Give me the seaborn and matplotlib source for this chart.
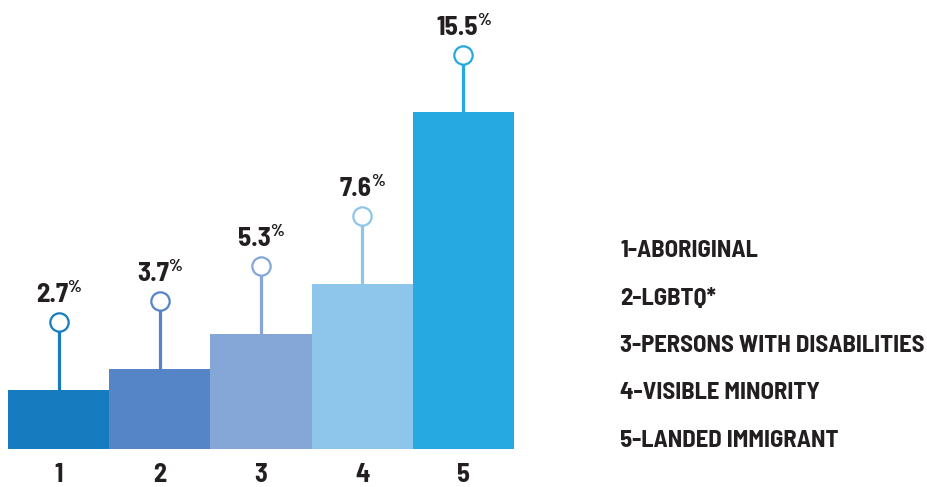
import numpy as np
import pandas as pd
import matplotlib
matplotlib.use("Agg")
import matplotlib.pyplot as plt
import seaborn as sns

categories = ["1", "2", "3", "4", "5"]
values = [2.7, 3.7, 5.3, 7.6, 15.5]
value_labels = ["2.7", "3.7", "5.3", "7.6", "15.5"]
legend_labels = ["1-ABORIGINAL", "2-LGBTQ*", "3-PERSONS WITH DISABILITIES",
                 "4-VISIBLE MINORITY", "5-LANDED IMMIGRANT"]
colors = ["#167bbf", "#5585c6", "#84a7d7", "#8ec5eb", "#26a9e0"]

sns.set_style("white")
FONT = ["Barlow Semi Condensed", "DejaVu Sans"]
plt.rcParams["font.family"] = FONT
TXT = "#231f20"

df = pd.DataFrame({"cat": categories, "val": values})

W, H = 928, 487
fig = plt.figure(figsize=(W / 100, H / 100), dpi=100)
px_per_unit = 21.75
ax = fig.add_axes([8 / W, (H - 449) / H, 506 / W, 449 / H])

sns.barplot(data=df, x="cat", y="val", hue="cat", palette=colors,
            width=1.0, dodge=False, legend=False, saturation=1,
            linewidth=0, ax=ax)
ax.set_xlim(-0.5, 4.5)
ax.set_ylim(0, 449 / px_per_unit)

fig.canvas.draw()
r = fig.canvas.get_renderer()
inv = ax.transData.inverted()
VAL_FS = 19.5
stems = np.where(np.array(values) > 10, 2.62, 3.12)
for i, (v, s, c, lab) in enumerate(zip(values, stems, colors, value_labels)):
    ax.plot([i, i], [v, v + s], color=c, lw=2.3, solid_capstyle="butt", zorder=3)
    ax.plot([i], [v + s], marker="o", ms=13.2, mfc="white", mec=c, mew=1.6, zorder=4)
    ty = v + s + 0.92
    t = ax.text(i, ty, lab, ha="left", va="baseline", fontsize=VAL_FS,
                fontweight="bold", color=TXT)
    p = ax.text(i, ty, "%", ha="left", va="top", fontsize=12.5,
                fontweight="bold", color=TXT)
    bt = t.get_window_extent(r)
    bp = p.get_window_extent(r)
    tw = bt.width
    pw = bp.width
    gap = -1
    total = tw + gap + pw
    x0_px = ax.transData.transform((i, 0))[0] - total / 2
    t.set_x(inv.transform((x0_px, 0))[0])
    cap_top_px = ax.transData.transform((0, ty))[1] + VAL_FS * 0.70 * 100 / 72 + 3
    px_ = inv.transform((x0_px + tw + gap, cap_top_px))
    p.set_position((px_[0], px_[1]))

ax.set_xticks(range(5))
ax.set_xticklabels(categories, fontsize=19, fontweight="bold", color=TXT)
ax.tick_params(axis="x", length=0, pad=10)
ax.set_yticks([])
ax.set_xlabel("")
ax.set_ylabel("")
for sp in ax.spines.values():
    sp.set_visible(False)

ys = [257.3, 304.7, 352.0, 399.4, 446.7]
for lab, y in zip(legend_labels, ys):
    fig.text(620 / W, 1 - y / H, lab, ha="left", va="baseline", fontsize=17.8,
             fontweight="bold", color=TXT)

fig.savefig("out.png", dpi=100)
